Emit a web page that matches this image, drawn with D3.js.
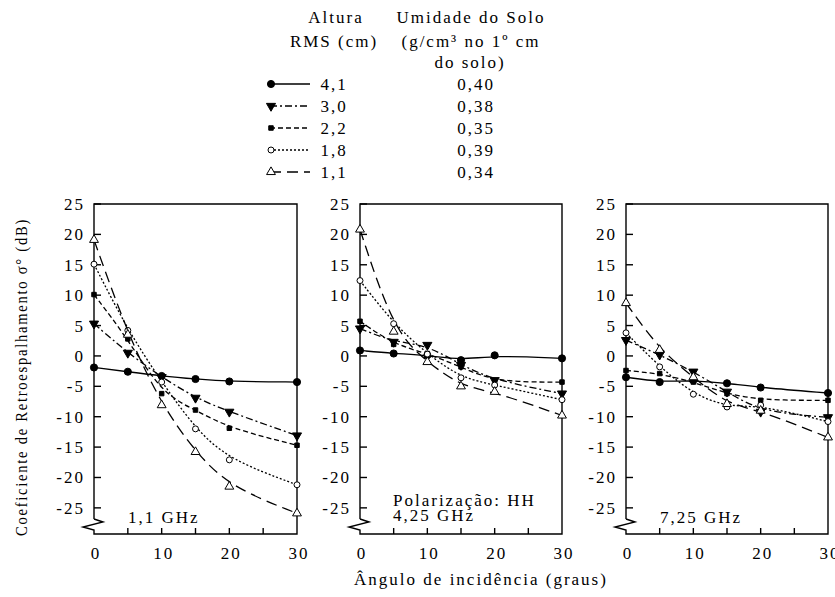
<!DOCTYPE html>
<meta charset="utf-8">
<title>Coeficiente de Retroespalhamento</title>
<style>
body { margin: 0; background: #fff; }
svg text {
  font-family: "Liberation Serif", "Times New Roman", serif;
  font-size: 17px;
  letter-spacing: 2px;
  fill: #000;
}
</style>
<body>
<script src="https://cdn.jsdelivr.net/npm/d3@7"></script>
<script>
'use strict';

// incidence angles (graus)
const angles = [0, 5, 10, 15, 20, 30];
const rmsHeights = ["4,1", "3,0", "2,2", "1,8", "1,1"];
const moisture = ["0,40", "0,38", "0,35", "0,39", "0,34"];
const freqs = ["1,1 GHz", "4,25 GHz", "7,25 GHz"];
const yTicks = [25, 20, 15, 10, 5, 0, -5, -10, -15, -20, -25];
const xTicks = [0, 10, 20, 30];

// sigma0 (dB), one array per rms height, per frequency
const f11_h41 = [-1.9, -2.6, -3.3, -3.8, -4.2, -4.3];
const f11_h30 = [5.3, 0.5, -3.5, -6.9, -9.2, -13.1];
const f11_h22 = [10.1, 2.8, -6.2, -8.9, -11.9, -14.7];
const f11_h18 = [15.1, 4.2, -4.3, -12.0, -17.1, -21.2];
const f11_h11 = [19.1, 3.5, -8.1, -15.8, -21.5, -25.9];

const f425_h41 = [0.9, 0.4, 0.1, -0.7, 0.1, -0.4];
const f425_h30 = [4.5, 2.3, 1.8, -1.5, -4.0, -6.2];
const f425_h22 = [5.7, 1.9, 0.4, -1.8, -4.3, -4.3];
const f425_h18 = [12.4, 5.3, 0.3, -3.6, -4.8, -7.2];
const f425_h11 = [20.8, 4.0, -1.0, -5.0, -5.9, -9.8];

const f725_h41 = [-3.5, -4.3, -4.0, -4.5, -5.2, -6.1];
const f725_h30 = [2.6, 0.2, -2.6, -5.9, -9.2, -10.1];
const f725_h22 = [-2.4, -2.9, -4.3, -6.2, -7.3, -7.3];
const f725_h18 = [3.8, -1.8, -6.3, -8.4, -8.1, -10.8];
const f725_h11 = [8.7, 1.0, -3.5, -7.9, -9.0, -13.4];

const panelsData = [
  [f11_h41, f11_h30, f11_h22, f11_h18, f11_h11],
  [f425_h41, f425_h30, f425_h22, f425_h18, f425_h11],
  [f725_h41, f725_h30, f725_h22, f725_h18, f725_h11]
];

const dashes = [null, "7,3,2,3", "5,3", "2,2", "11,6"];
const markers = [
  {type: d3.symbolCircle, size: 40, fill: "#000"},
  {type: d3.symbolTriangle, size: 36, fill: "#000", flip: true},
  {type: d3.symbolSquare, size: 20, fill: "#000"},
  {type: d3.symbolCircle, size: 28, fill: "#fff"},
  {type: d3.symbolTriangle, size: 34, fill: "#fff"}
];

const W = 835, H = 597;
const plotTop = 204, plotBottom = 534;
const panelX = [[94, 297], [360, 562], [626, 828]];

const svg = d3.select("body").append("svg")
    .attr("width", W)
    .attr("height", H);

const y = d3.scaleLinear().domain([-29.3, 25]).range([plotBottom, plotTop]);

function drawMarker(g, m, px, py) {
  g.append("path")
    .attr("d", d3.symbol().type(m.type).size(m.size)())
    .attr("transform", "translate(" + px + "," + py + ")" + (m.flip ? " rotate(180)" : ""))
    .attr("fill", m.fill)
    .attr("stroke", "#000")
    .attr("stroke-width", 1);
}

panelsData.forEach(function(series, p) {
  const x = d3.scaleLinear().domain([0, 30]).range(panelX[p]);
  const x0 = x(0), x1 = x(30);
  const g = svg.append("g");

  // frame with the axis break on the left side
  g.append("path")
    .attr("d", "M" + x0 + "," + (plotBottom - 15) +
               " L" + x0 + "," + plotTop + " L" + x1 + "," + plotTop +
               " L" + x1 + "," + plotBottom + " L" + x0 + "," + plotBottom +
               " L" + x0 + "," + (plotBottom - 4) +
               " L" + (x0 - 11) + "," + (plotBottom - 7) +
               " L" + (x0 + 9) + "," + (plotBottom - 12) +
               " L" + x0 + "," + (plotBottom - 15))
    .attr("fill", "none")
    .attr("stroke", "#000")
    .attr("stroke-width", 1.4);

  // y ticks point inward
  yTicks.forEach(function(t) {
    g.append("line")
      .attr("x1", x0).attr("x2", x0 + 7)
      .attr("y1", y(t)).attr("y2", y(t))
      .attr("stroke", "#000").attr("stroke-width", 1.4);
    g.append("text")
      .attr("x", x0 - 9).attr("y", y(t) + 6)
      .attr("text-anchor", "end")
      .text(t);
  });

  d3.range(5, 30, 5).forEach(function(t) {
    g.append("line")
      .attr("x1", x(t)).attr("x2", x(t))
      .attr("y1", plotBottom).attr("y2", plotBottom - 6)
      .attr("stroke", "#000").attr("stroke-width", 1.4);
  });
  xTicks.forEach(function(t) {
    g.append("text")
      .attr("x", x(t) + 2).attr("y", 559)
      .attr("text-anchor", "middle")
      .text(t);
  });

  const line = d3.line()
    .x(function(d, i) { return x(angles[i]); })
    .y(function(d) { return y(d); })
    .curve(d3.curveBasis);

  series.forEach(function(vals, s) {
    g.append("path")
      .attr("d", line(vals))
      .attr("fill", "none")
      .attr("stroke", "#000")
      .attr("stroke-width", 1.3)
      .attr("stroke-dasharray", dashes[s]);
    vals.forEach(function(v, i) {
      drawMarker(g, markers[s], x(angles[i]), y(v));
    });
  });
});

// panel labels
svg.append("text").attr("x", 128).attr("y", 523).text(freqs[0]);
svg.append("text").attr("x", 393).attr("y", 506).text("Polarização: HH");
svg.append("text").attr("x", 393).attr("y", 521).text(freqs[1]);
svg.append("text").attr("x", 660).attr("y", 523).text(freqs[2]);

// axis titles
svg.append("text")
  .attr("x", 481).attr("y", 585)
  .attr("text-anchor", "middle")
  .text("Ângulo de incidência (graus)");

svg.append("text")
  .attr("transform", "translate(27,377) rotate(-90)")
  .attr("text-anchor", "middle")
  .attr("textLength", 318)
  .attr("lengthAdjust", "spacingAndGlyphs")
  .text("Coeficiente de Retroespalhamento σ° (dB)");

// legend
const leg = svg.append("g");
leg.append("text").attr("x", 336).attr("y", 23).attr("text-anchor", "middle").text("Altura");
leg.append("text").attr("x", 334).attr("y", 47).attr("text-anchor", "middle").text("RMS (cm)");
leg.append("text").attr("x", 471).attr("y", 23).attr("text-anchor", "middle").text("Umidade do Solo");
leg.append("text").attr("x", 471).attr("y", 47).attr("text-anchor", "middle").text("(g/cm³  no 1º cm");
leg.append("text").attr("x", 470).attr("y", 68).attr("text-anchor", "middle").text("do solo)");

rmsHeights.forEach(function(h, i) {
  const ly = 84 + i * 22;
  leg.append("line")
    .attr("x1", 270).attr("x2", 310)
    .attr("y1", ly).attr("y2", ly)
    .attr("stroke", "#000").attr("stroke-width", 1.3)
    .attr("stroke-dasharray", dashes[i]);
  drawMarker(leg, markers[i], 271, ly);
  leg.append("text").attr("x", 334).attr("y", ly + 6).attr("text-anchor", "middle").text(h);
  leg.append("text").attr("x", 476).attr("y", ly + 6).attr("text-anchor", "middle").text(moisture[i]);
});
</script>
</body>
